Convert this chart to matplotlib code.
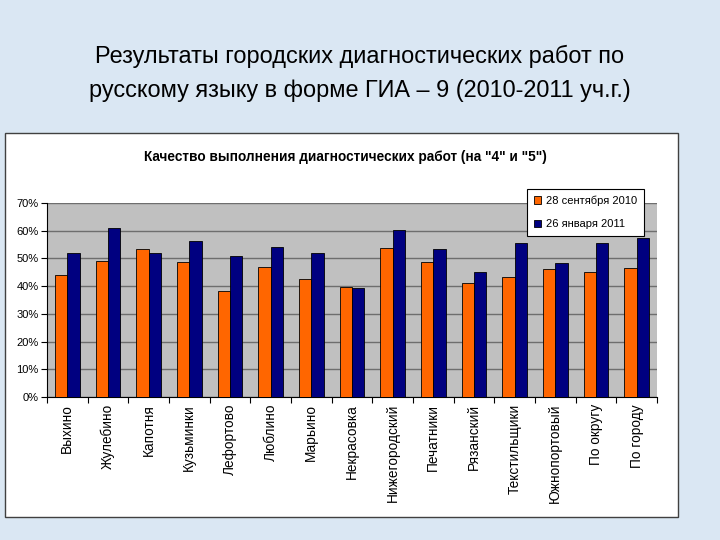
import matplotlib
matplotlib.use('Agg')
import matplotlib.pyplot as plt
import matplotlib.patches as mpatches
import numpy as np

districts = ['Выхино', 'Жулебино', 'Капотня', 'Кузьминки', 'Лефортово', 'Люблино',
             'Марьино', 'Некрасовка', 'Нижегородский', 'Печатники', 'Рязанский',
             'Текстильщики', 'Южнопортовый', 'По округу', 'По городу']
sep_2010 = [43.9, 49.1, 53.3, 48.7, 38.4, 46.9, 42.6, 39.7, 53.9, 48.7, 41.3, 43.2, 46.1, 45.1, 46.4]
jan_2011 = [52.0, 61.1, 52.0, 56.2, 51.0, 54.3, 52.0, 39.4, 60.4, 53.4, 45.1, 55.4, 48.4, 55.4, 57.2]
series_names = ['28 сентября 2010', '26 января 2011']
yticks = [0, 10, 20, 30, 40, 50, 60, 70]

plt.rcParams['font.family'] = ['Liberation Sans', 'DejaVu Sans']

fig = plt.figure(figsize=(7.2, 5.4), dpi=100)
fig.patch.set_facecolor('#dae7f3')

# slide title
fig.text(0.5, 1 - 73.5/540, 'Результаты городских диагностических работ по\nрусскому языку в форме ГИА – 9 (2010-2011 уч.г.)',
         ha='center', va='center', fontsize=16.9, linespacing=1.65, color='black')

# white chart box (behind the axes)
box = mpatches.Rectangle((5/720, 1-517/540), 673/720, 384/540, transform=fig.transFigure,
                         facecolor='white', edgecolor='#404040', lw=1, zorder=-5)
fig.patches.append(box)

fig.text(345/720, 1-157/540, 'Качество выполнения диагностических работ (на "4" и "5")',
         ha='center', va='center', fontsize=9.8, fontweight='bold')

ax = fig.add_axes([47/720, 1-397/540, 610/720, 194/540])
ax.set_zorder(2)
ax.set_facecolor('#c0c0c0')

x = np.arange(len(districts))
w = 0.3
ax.bar(x - w/2, sep_2010, w, color='#ff6600', edgecolor='black', lw=0.6, zorder=3, label=series_names[0])
ax.bar(x + w/2, jan_2011, w, color='#000080', edgecolor='black', lw=0.6, zorder=3, label=series_names[1])

ax.set_xlim(-0.5, len(districts) - 0.5)
ax.set_ylim(0, 70)
ax.set_yticks(yticks)
ax.set_yticklabels([f'{v}%' for v in yticks], fontsize=8)
ax.yaxis.grid(True, color='#6e6e6e', lw=1, zorder=1)
ax.set_axisbelow(True)

ax.set_xticks(np.arange(len(districts) + 1) - 0.5)
ax.set_xticklabels([])
ax.set_xticks(x, minor=True)
ax.set_xticklabels(districts, minor=True, rotation=90, fontsize=9.8, va='top')
ax.tick_params(axis='x', which='minor', length=0, pad=5)
ax.tick_params(axis='x', which='major', length=4, color='black')
ax.tick_params(axis='y', length=4, pad=2)

for s in ['top', 'right']:
    ax.spines[s].set_visible(False)
ax.spines['left'].set_color('black')
ax.spines['bottom'].set_color('black')

leg = ax.legend(loc='upper left', frameon=True, fancybox=False, edgecolor='black', framealpha=1,
                prop={'size': 8}, handlelength=0.7, handleheight=0.7,
                handletextpad=0.4, borderpad=0.6, labelspacing=1.2, borderaxespad=0)
leg.set_bbox_to_anchor((480/610, 1 + 14/194), transform=ax.transAxes)
leg.get_frame().set_linewidth(0.8)

fig.savefig('out.png', dpi=100, facecolor=fig.get_facecolor())
